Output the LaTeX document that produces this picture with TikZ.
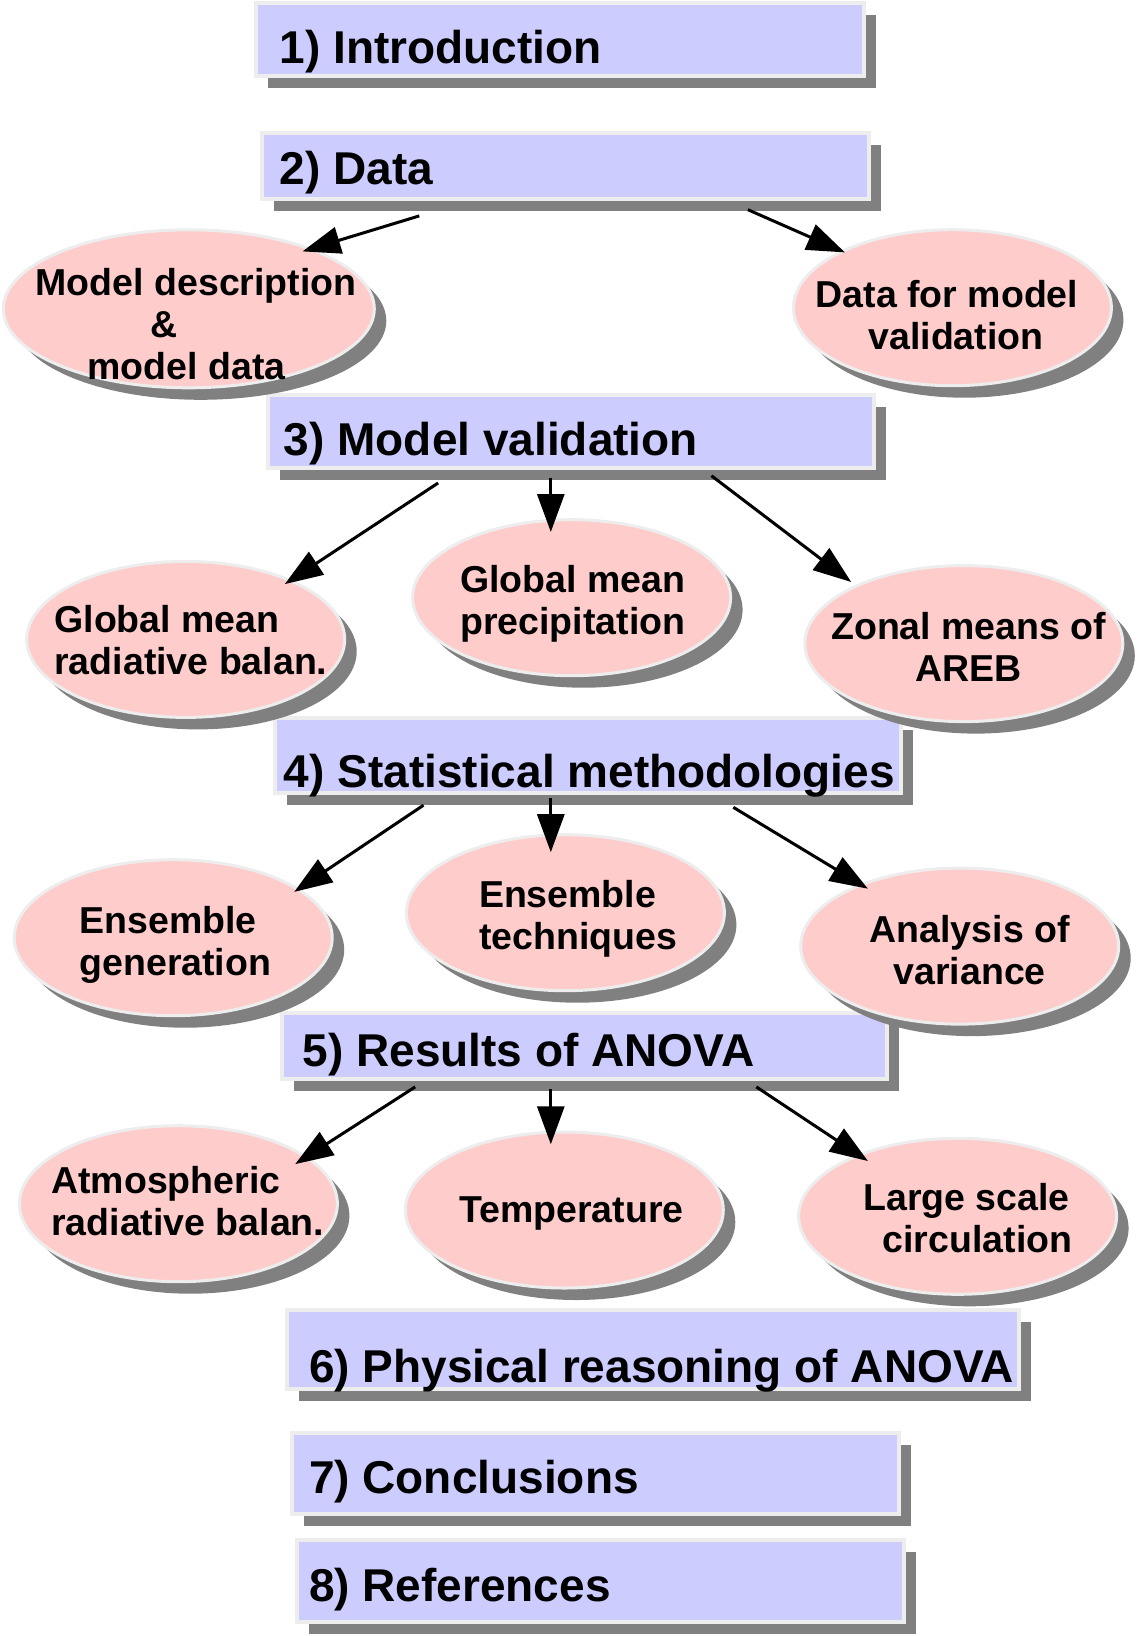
\documentclass[tikz,border=0pt]{standalone}
\usepackage{fontspec}
\setmainfont{Liberation Sans}
\usepackage{xcolor}
\usetikzlibrary{shapes.geometric, shadows}
\usetikzlibrary{arrows.meta}
\definecolor{secfill}{HTML}{CCCCFF}
\definecolor{ovalfill}{HTML}{FFCCCC}
\definecolor{rimgray}{HTML}{EDEDED}

\begin{document}
\begin{tikzpicture}[x=1pt, y=-1pt]
% Define styles
\tikzstyle{sect} = [rectangle, fill=secfill, draw=rimgray, line width=4pt, outer sep=0pt, inner sep=0pt, anchor=north west, drop shadow={shadow xshift=12pt, shadow yshift=-12pt, fill=black!50, opacity=1}]
\tikzstyle{oval} = [ellipse, fill=ovalfill, draw=rimgray, line width=3pt, outer sep=0pt, inner sep=0pt, minimum width=318pt, minimum height=156pt, drop shadow={shadow xshift=12pt, shadow yshift=-12pt, fill=black!50, opacity=1}]
\tikzstyle{secttext} = [inner sep=0pt, anchor=base west, font=\fontsize{46}{55}\selectfont\bfseries]
\tikzstyle{ovaltext} = [inner sep=0pt, anchor=west, font=\fontsize{37.5}{42}\selectfont\bfseries]
\tikzstyle{link} = [line width=3pt, -{Triangle[length=38pt, width=27pt]}]
\useasboundingbox (0,0) rectangle (1137,1636);
% Define nodes
\node[sect, minimum width=608pt, minimum height=73pt] (sec_1) at (255.6,3.1) {};
\node[sect, minimum width=607pt, minimum height=66.7pt] (sec_2) at (261.8,132.5) {};
\node[sect, minimum width=606pt, minimum height=73pt] (sec_3) at (268,395) {};
\node[sect, minimum width=625.8pt, minimum height=75pt] (sec_4) at (275.4,717.7) {};
\node[sect, minimum width=605pt, minimum height=65.7pt] (sec_5) at (281.6,1012.9) {};
\node[sect, minimum width=732.2pt, minimum height=79.4pt] (sec_6) at (286.9,1310) {};
\node[sect, minimum width=607pt, minimum height=80.5pt] (sec_7) at (292,1433) {};
\node[sect, minimum width=607pt, minimum height=82.4pt] (sec_8) at (297.3,1539.6) {};
\node[secttext] (sec_1_txt) at (279.5,63) {1) Introduction};
\node[secttext] (sec_2_txt) at (279.5,184.6) {2) Data};
\node[secttext] (sec_3_txt) at (283.7,455.8) {3) Model validation};
\node[secttext] (sec_4_txt) at (283.7,787.5) {4) Statistical methodologies};
\node[secttext] (sec_5_txt) at (302.5,1066) {5) Results of ANOVA};
\node[secttext] (sec_6_txt) at (308.8,1382.1) {6) Physical reasoning of ANOVA};
\node[secttext] (sec_7_txt) at (308.8,1493.7) {7) Conclusions};
\node[secttext] (sec_8_txt) at (308.8,1601.2) {8) References};
\node[oval, minimum width=371pt, minimum height=158pt] (data_model) at (188.8,308.8) {};
\node[oval] (data_valid) at (952.4,307.7) {};
\node[oval] (valid_rad) at (185.7,639.4) {};
\node[oval] (valid_prec) at (571.6,597.7) {};
\node[oval] (valid_areb) at (963.8,643.6) {};
\node[oval] (stat_gen) at (173.2,937.7) {};
\node[oval] (stat_tech) at (565.4,912.7) {};
\node[oval] (stat_anova) at (959.7,946.1) {};
\node[oval] (res_rad) at (178.4,1203.7) {};
\node[oval] (res_temp) at (564.3,1210) {};
\node[oval] (res_circ) at (957.6,1216.3) {};
\node[ovaltext, align=center] (data_model_txt) at (35.5,324.5) {Model description\\\hspace*{-64pt}\&\\\hspace*{-19pt}model data};
\node[ovaltext, align=center] (data_valid_txt) at (815.5,315) {Data for model\\\hspace*{18pt}validation};
\node[ovaltext, align=left] (valid_rad_txt) at (54.2,640.5) {Global mean\\radiative balan.};
\node[ovaltext, align=center] (valid_prec_txt) at (460,603.5) {Global mean\\precipitation};
\node[ovaltext, align=center] (valid_areb_txt) at (831,646.5) {Zonal means of\\AREB};
\node[ovaltext, align=left] (stat_gen_txt) at (79.3,945) {Ensemble\\generation};
\node[ovaltext, align=left] (stat_tech_txt) at (478.8,919) {Ensemble\\techniques};
\node[ovaltext, align=center] (stat_anova_txt) at (869.5,950.5) {Analysis of\\variance};
\node[ovaltext, align=left] (res_rad_txt) at (51.1,1201.5) {Atmospheric\\radiative balan.};
\node[ovaltext] (res_temp_txt) at (459,1213.5) {Temperature};
\node[ovaltext, align=center] (res_circ_txt) at (860.5,1218.5) {Large scale\\\hspace*{22pt}circulation};
% Connect the nodes
\draw[link] ([shift={(157.5,16.7)}]sec_2.south west) -- ([shift={(113.7,-57.4)}]data_model.center);
\draw[link] ([shift={(486.1,10.5)}]sec_2.south west) -- ([shift={(-107.5,-55.3)}]data_valid.center);
\draw[link] ([shift={(170.1,15)}]sec_3.south west) -- ([shift={(99.1,-55.3)}]valid_rad.center);
\draw[link] ([shift={(282.8,9.7)}]sec_3.south west) -- ([shift={(-20.8,-65.7)}]valid_prec.center);
\draw[link] ([shift={(443.4,7.7)}]sec_3.south west) -- ([shift={(-112.6,-61.6)}]valid_areb.center);
\draw[link] ([shift={(148.1,12.5)}]sec_4.south west) -- ([shift={(121,-45.8)}]stat_gen.center);
\draw[link] ([shift={(275.4,5.2)}]sec_4.south west) -- ([shift={(-14.6,-60.5)}]stat_tech.center);
\draw[link] ([shift={(457.9,14.6)}]sec_4.south west) -- ([shift={(-91.8,-57.4)}]stat_anova.center);
\draw[link] ([shift={(133.6,8.3)}]sec_5.south west) -- ([shift={(116.8,-39.6)}]res_rad.center);
\draw[link] ([shift={(269.2,10.4)}]sec_5.south west) -- ([shift={(-13.5,-65.7)}]res_temp.center);
\draw[link] ([shift={(474.7,8.3)}]sec_5.south west) -- ([shift={(-89.7,-55.3)}]res_circ.center);
\end{tikzpicture}
\end{document}
